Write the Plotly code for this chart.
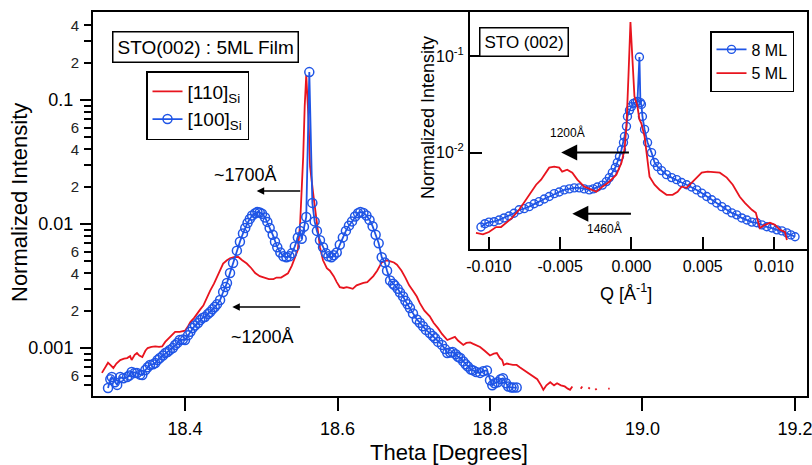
import plotly.graph_objects as go

# ---------------- main panel data ----------------
theta_110 = [18.291, 18.295, 18.299, 18.302, 18.306, 18.310, 18.315, 18.320, 18.324, 18.328,
             18.330, 18.334, 18.337, 18.340, 18.344, 18.348, 18.351, 18.356, 18.361, 18.366,
             18.370, 18.374, 18.380, 18.384, 18.387, 18.393, 18.400, 18.404, 18.407, 18.412,
             18.416, 18.420, 18.424, 18.428, 18.433, 18.438, 18.442, 18.446, 18.450, 18.455,
             18.459, 18.464, 18.470, 18.475, 18.481, 18.487, 18.492, 18.498, 18.504, 18.510,
             18.516, 18.520, 18.526, 18.531, 18.535, 18.540, 18.545, 18.548, 18.551, 18.553,
             18.555, 18.557, 18.559, 18.562, 18.564, 18.568, 18.573, 18.577, 18.581, 18.586,
             18.590, 18.595, 18.599, 18.603, 18.608, 18.612, 18.616, 18.620, 18.625, 18.630,
             18.634, 18.639, 18.643, 18.647, 18.652, 18.658, 18.665, 18.670, 18.674, 18.678,
             18.684, 18.689, 18.694, 18.699, 18.704, 18.708, 18.714, 18.721, 18.726, 18.732,
             18.737, 18.744, 18.750, 18.754, 18.758, 18.765, 18.769, 18.774, 18.778, 18.787,
             18.793, 18.800, 18.805, 18.809, 18.813, 18.816, 18.818, 18.822, 18.830, 18.835,
             18.839, 18.845, 18.850, 18.856, 18.862, 18.867, 18.870, 18.874, 18.879, 18.884,
             18.888, 18.893, 18.898, 18.902, 18.905, 18.908, None, 18.919, 18.921, None,
             18.929, 18.931, None, 18.938, 18.940, None, 18.955, 18.957]
int_110 = [6.3e-4, 7.0e-4, 7.6e-4, 7.3e-4, 6.9e-4, 7.5e-4, 8.0e-4, 8.2e-4, 8.3e-4, 8.6e-4,
           8.0e-4, 8.8e-4, 9.1e-4, 8.7e-4, 8.45e-4, 9.5e-4, 1.0e-3, 1.02e-3, 1.03e-3, 1.02e-3,
           1.03e-3, 1.12e-3, 1.23e-3, 1.3e-3, 1.35e-3, 1.35e-3, 1.38e-3, 1.5e-3, 1.62e-3, 1.75e-3,
           1.91e-3, 2.05e-3, 2.2e-3, 2.5e-3, 2.9e-3, 3.3e-3, 3.7e-3, 4.2e-3, 4.8e-3, 5.1e-3,
           5.3e-3, 5.4e-3, 5.42e-3, 5.1e-3, 4.8e-3, 4.4e-3, 4.03e-3, 3.8e-3, 3.7e-3, 3.6e-3,
           3.6e-3, 3.7e-3, 3.7e-3, 3.9e-3, 4.0e-3, 4.6e-3, 5.6e-3, 6.2e-3, 1.02e-2, 1.9e-2,
           3.5e-2, 9.0e-2, 0.159, 7.0e-2, 2.9e-2, 1.78e-2, 1.02e-2, 6.5e-3, 5.1e-3, 4.4e-3,
           4.2e-3, 3.8e-3, 3.4e-3, 3.1e-3, 3.05e-3, 3.1e-3, 3.05e-3, 3.0e-3, 3.2e-3, 3.3e-3,
           3.35e-3, 3.4e-3, 3.6e-3, 3.8e-3, 4.2e-3, 4.9e-3, 5.1e-3, 5.0e-3, 4.9e-3, 4.7e-3,
           4.2e-3, 3.7e-3, 3.2e-3, 2.9e-3, 2.6e-3, 2.3e-3, 2.0e-3, 1.8e-3, 1.6e-3, 1.44e-3,
           1.3e-3, 1.16e-3, 1.2e-3, 1.23e-3, 1.15e-3, 1.06e-3, 1.1e-3, 1.11e-3, 1.08e-3, 1.02e-3,
           9.5e-4, 8.7e-4, 9.0e-4, 9.1e-4, 8.3e-4, 8.0e-4, 7.3e-4, 7.5e-4, 7.3e-4, 7.3e-4,
           7.0e-4, 6.6e-4, 6.3e-4, 5.9e-4, 5.6e-4, 5.0e-4, 4.6e-4, 5.0e-4, 5.3e-4, 5.0e-4,
           5.2e-4, 5.0e-4, 4.9e-4, 4.7e-4, 4.6e-4, 4.9e-4, None, 4.7e-4, 4.9e-4, None,
           4.8e-4, 4.7e-4, None, 4.6e-4, 4.7e-4, None, 4.7e-4, 4.7e-4]

theta_100 = [18.299, 18.302, 18.304, 18.308, 18.311, 18.315, 18.319, 18.324, 18.327, 18.330,
             18.334, 18.337, 18.341, 18.344, 18.348, 18.351, 18.354, 18.358, 18.361, 18.364,
             18.367, 18.371, 18.374, 18.377, 18.380, 18.384, 18.387, 18.390, 18.393, 18.397,
             18.400, 18.404, 18.407, 18.410, 18.413, 18.417, 18.420, 18.423, 18.426, 18.430,
             18.433, 18.436, 18.439, 18.442, 18.446, 18.450, 18.453, 18.455, 18.459, 18.463,
             18.468, 18.472, 18.476, 18.479, 18.482, 18.485, 18.488, 18.492, 18.495, 18.498,
             18.501, 18.505, 18.508, 18.511, 18.515, 18.518, 18.521, 18.525, 18.529, 18.533,
             18.537, 18.540, 18.544, 18.548, 18.551, 18.553, 18.556, 18.559, 18.563, 18.567,
             18.570, 18.573, 18.577, 18.581, 18.585, 18.588, 18.592, 18.595, 18.599, 18.603,
             18.607, 18.611, 18.615, 18.619, 18.623, 18.627, 18.630, 18.634, 18.638, 18.642,
             18.646, 18.650, 18.654, 18.658, 18.662, 18.665, 18.669, 18.673, 18.675, 18.679,
             18.682, 18.686, 18.689, 18.692, 18.695, 18.699, 18.704, 18.708, 18.712, 18.716,
             18.721, 18.725, 18.728, 18.732, 18.737, 18.741, 18.744, 18.748, 18.751, 18.755,
             18.758, 18.761, 18.765, 18.768, 18.771, 18.775, 18.778, 18.782, 18.787, 18.791,
             18.796, 18.800, 18.803, 18.806, 18.810, 18.814, 18.817, 18.821, 18.824, 18.828,
             18.831, 18.835]
int_100 = [4.76e-4, 5.6e-4, 5.83e-4, 5.3e-4, 5.04e-4, 5.83e-4, 5.7e-4, 5.83e-4, 6.0e-4, 6.4e-4,
           6.3e-4, 6.29e-4, 6.1e-4, 6.05e-4, 6.65e-4, 7.0e-4, 7.3e-4, 7.4e-4, 7.57e-4, 8.0e-4,
           8.3e-4, 8.7e-4, 9.1e-4, 9.3e-4, 9.64e-4, 1.0e-3, 1.06e-3, 1.1e-3, 1.16e-3, 1.17e-3,
           1.16e-3, 1.27e-3, 1.35e-3, 1.45e-3, 1.52e-3, 1.59e-3, 1.68e-3, 1.75e-3, 1.78e-3, 1.88e-3,
           1.95e-3, 2.05e-3, 2.14e-3, 2.25e-3, 2.44e-3, 2.83e-3, 3.1e-3, 3.34e-3, 4.03e-3, 4.85e-3,
           6.1e-3, 7.2e-3, 8.4e-3, 9.3e-3, 1.02e-2, 1.10e-2, 1.17e-2, 1.22e-2, 1.25e-2, 1.24e-2,
           1.21e-2, 1.13e-2, 1.04e-2, 9.3e-3, 8.2e-3, 7.2e-3, 6.5e-3, 5.9e-3, 5.5e-3, 5.4e-3,
           5.5e-3, 5.8e-3, 6.6e-3, 7.8e-3, 8.8e-3, 7.6e-3, 9.5e-3, 1.14e-2, 0.168, 1.48e-2,
           1.05e-2, 8.8e-3, 7.4e-3, 6.5e-3, 5.8e-3, 5.5e-3, 5.4e-3, 5.6e-3, 5.9e-3, 6.8e-3,
           7.8e-3, 8.8e-3, 9.7e-3, 1.05e-2, 1.15e-2, 1.22e-2, 1.25e-2, 1.23e-2, 1.17e-2, 1.08e-2,
           9.6e-3, 8.2e-3, 7.0e-3, 5.4e-3, 4.9e-3, 4.2e-3, 3.5e-3, 3.3e-3, 3.2e-3, 3.0e-3,
           2.8e-3, 2.6e-3, 2.4e-3, 2.25e-3, 2.1e-3, 1.9e-3, 1.7e-3, 1.6e-3, 1.5e-3, 1.4e-3,
           1.32e-3, 1.25e-3, 1.2e-3, 1.12e-3, 1.06e-3, 9.8e-4, 9.1e-4, 9.2e-4, 9.3e-4, 8.9e-4,
           8.5e-4, 8.3e-4, 7.8e-4, 7.4e-4, 7.1e-4, 6.7e-4, 6.6e-4, 6.4e-4, 6.3e-4, 6.5e-4,
           6.6e-4, 5.5e-4, 5.0e-4, 5.2e-4, 5.3e-4, 5.6e-4, 5.7e-4, 5.2e-4, 4.9e-4, 4.8e-4,
           4.8e-4, 4.8e-4]

# ---------------- inset data ----------------
q_5ml = [-0.01091, -0.01042, -0.01000, -0.00950, -0.00915, -0.00880, -0.00838, -0.00788, -0.00739, -0.00704,
         -0.00669, -0.00634, -0.00598, -0.00577, -0.00542, -0.00507, -0.00486, -0.00451, -0.00415, -0.00380,
         -0.00331, -0.00282, -0.00246, -0.00204, -0.00155, -0.00106, -0.00070, -0.00049, -0.00035, -0.00021,
         -0.00007, 0.00007, 0.00021, 0.00042, 0.00056, 0.00070, 0.00092, 0.00106, 0.00127, 0.00162,
         0.00197, 0.00246, 0.00289, 0.00324, 0.00352, 0.00387, 0.00422, 0.00458, 0.00493, 0.00535,
         0.00584, 0.00620, 0.00669, 0.00711, 0.00760, 0.00796, 0.00845, 0.00873, 0.00901, 0.00936,
         0.00972, 0.01007, 0.01042, 0.01077, 0.01091]
int_5ml = [1.47e-3, 1.42e-3, 1.50e-3, 1.69e-3, 1.69e-3, 1.87e-3, 2.10e-3, 2.55e-3, 3.24e-3, 3.92e-3,
           4.64e-3, 5.24e-3, 6.19e-3, 6.98e-3, 7.15e-3, 6.98e-3, 6.34e-3, 6.65e-3, 6.19e-3, 5.24e-3,
           4.43e-3, 4.12e-3, 3.92e-3, 4.43e-3, 4.99e-3, 5.9e-3, 7.87e-3, 1.07e-2, 1.87e-2, 6.19e-2,
           0.226, 9.3e-2, 3.83e-2, 3.02e-2, 2.21e-2, 2.0e-2, 1.47e-2, 1.0e-2, 5.62e-3, 4.64e-3,
           4.12e-3, 3.65e-3, 3.65e-3, 3.92e-3, 4.43e-3, 4.31e-3, 4.87e-3, 5.5e-3, 6.19e-3, 6.34e-3,
           6.19e-3, 6.19e-3, 5.5e-3, 4.64e-3, 3.48e-3, 3.01e-3, 2.55e-3, 2.37e-3, 1.65e-3, 1.78e-3,
           1.87e-3, 1.78e-3, 1.58e-3, 1.5e-3, 1.24e-3]

q_8ml = [-0.01056, -0.01028, -0.01000, -0.00964, -0.00929, -0.00894, -0.00859, -0.00824, -0.00788, -0.00753,
         -0.00718, -0.00683, -0.00648, -0.00612, -0.00577, -0.00542, -0.00507, -0.00472, -0.00436, -0.00401,
         -0.00366, -0.00331, -0.00296, -0.00268, -0.00239, -0.00204, -0.00176, -0.00155, -0.00134, -0.00113,
         -0.00099, -0.00084, -0.00070, -0.00056, -0.00049, -0.00035, -0.00028, -0.00014, 0.00000, 0.00014,
         0.00028, 0.00042, 0.00056, 0.00063, 0.00070, 0.00077, 0.00092, 0.00113, 0.00141, 0.00162,
         0.00183, 0.00211, 0.00246, 0.00282, 0.00317, 0.00352, 0.00387, 0.00422, 0.00458, 0.00493,
         0.00528, 0.00563, 0.00598, 0.00634, 0.00669, 0.00704, 0.00739, 0.00774, 0.00810, 0.00845,
         0.00880, 0.00915, 0.00950, 0.00986, 0.01021, 0.01056, 0.01091, 0.01119, 0.01148]
int_8ml = [1.69e-3, 1.83e-3, 1.90e-3, 1.92e-3, 2.0e-3, 2.1e-3, 2.2e-3, 2.35e-3, 2.55e-3, 2.62e-3,
           2.75e-3, 2.95e-3, 3.1e-3, 3.3e-3, 3.5e-3, 3.75e-3, 3.9e-3, 4.1e-3, 4.2e-3, 4.3e-3,
           4.3e-3, 4.2e-3, 4.1e-3, 4.2e-3, 4.4e-3, 4.6e-3, 5.0e-3, 5.5e-3, 6.2e-3, 7.0e-3,
           7.9e-3, 9.1e-3, 1.07e-2, 1.27e-2, 1.47e-2, 1.87e-2, 2.37e-2, 2.74e-2, 3.0e-2, 3.24e-2,
           3.3e-2, 3.4e-2, 9.8e-2, 3.3e-2, 3.16e-2, 2.37e-2, 1.74e-2, 1.27e-2, 1.0e-2, 7.9e-3,
           7.15e-3, 6.5e-3, 5.9e-3, 5.5e-3, 5.24e-3, 4.9e-3, 4.64e-3, 4.4e-3, 4.1e-3, 3.8e-3,
           3.5e-3, 3.24e-3, 3.0e-3, 2.75e-3, 2.55e-3, 2.37e-3, 2.26e-3, 2.1e-3, 2.0e-3, 1.9e-3,
           1.87e-3, 1.78e-3, 1.7e-3, 1.65e-3, 1.58e-3, 1.54e-3, 1.47e-3, 1.4e-3, 1.34e-3]

# tick definitions
main_x_ticks = [18.4, 18.6, 18.8, 19.0, 19.2]
main_x_text = ["18.4", "18.6", "18.8", "19.0", "19.2"]
main_y_decades = [0.001, 0.01, 0.1]
main_y_decade_text = ["0.001", "0.01", "0.1"]
main_y_minor_lab = [6e-4, 2e-3, 4e-3, 6e-3, 2e-2, 4e-2, 6e-2, 0.2, 0.4]
main_y_minor_lab_text = ["6", "2", "4", "6", "2", "4", "6", "2", "4"]
main_y_minor = [5e-4, 7e-4, 8e-4, 9e-4, 3e-3, 5e-3, 7e-3, 8e-3, 9e-3,
                3e-2, 5e-2, 7e-2, 8e-2, 9e-2, 0.3]
inset_x_ticks = [-0.010, -0.005, 0.0, 0.005, 0.010]
inset_x_text = ["-0.010", "-0.005", "0.000", "0.005", "0.010"]
inset_y_ticks = [0.01, 0.1]
inset_y_text = ["10<sup>-2</sup>", "10<sup>-1</sup>"]

RED = "#e8141e"
BLUE = "#1f55e6"
FONT = "Liberation Sans, Arial, sans-serif"

fig = go.Figure()

fig.add_trace(go.Scatter(x=theta_110, y=int_110, mode="lines", name="[110]<sub>Si</sub>",
                         line=dict(color=RED, width=1.8), connectgaps=False,
                         xaxis="x", yaxis="y", legend="legend"))
fig.add_trace(go.Scatter(x=theta_100, y=int_100, mode="lines+markers", name="[100]<sub>Si</sub>",
                         line=dict(color=BLUE, width=1.8),
                         marker=dict(symbol="circle-open", size=9, color=BLUE, line=dict(width=1.5)),
                         xaxis="x", yaxis="y", legend="legend"))
# overlay axis for the decade labels
fig.add_trace(go.Scatter(x=[], y=[], xaxis="x", yaxis="y3", showlegend=False, hoverinfo="skip"))

fig.add_trace(go.Scatter(x=q_8ml, y=int_8ml, mode="lines+markers", name="8 ML",
                         line=dict(color=BLUE, width=1.8),
                         marker=dict(symbol="circle-open", size=8, color=BLUE, line=dict(width=1.4)),
                         xaxis="x2", yaxis="y2", legend="legend2"))
fig.add_trace(go.Scatter(x=q_5ml, y=int_5ml, mode="lines", name="5 ML",
                         line=dict(color=RED, width=1.8),
                         xaxis="x2", yaxis="y2", legend="legend2"))

ML, MR, MT, MB = 93, 5, 12, 69
W, H = 812, 465
pw, ph = W - ML - MR, H - MT - MB


def px(xp):
    return (xp - ML) / pw


def py(yp):
    return (H - MB - yp) / ph


axis_font = dict(family=FONT, size=18, color="black")

fig.update_layout(
    width=W, height=H,
    margin=dict(l=ML, r=MR, t=MT, b=MB),
    paper_bgcolor="white", plot_bgcolor="white",
    template="none",
    font=dict(family=FONT, color="black"),
    xaxis=dict(domain=[0, 1], range=[18.2793, 19.2158], anchor="y",
               tickvals=main_x_ticks, ticktext=main_x_text, ticks="outside", ticklen=13,
               tickwidth=1.5, tickcolor="black", tickfont=axis_font, ticklabelstandoff=2,
               ticklabeloverflow="allow",
               showline=True, linecolor="black", linewidth=2, mirror=True,
               showgrid=False, zeroline=False),
    yaxis=dict(domain=[0, 1], type="log", range=[-3.387, -0.290], anchor="x",
               tickvals=main_y_minor_lab, ticktext=main_y_minor_lab_text, ticks="outside",
               ticklen=7, tickwidth=1.5, tickcolor="black",
               tickfont=dict(family=FONT, size=15, color="#222"), ticklabelstandoff=2,
               minor=dict(tickvals=main_y_minor, ticks="outside", ticklen=7, tickwidth=1.5,
                          tickcolor="black", showgrid=False),
               showline=True, linecolor="black", linewidth=2, mirror=True,
               showgrid=False, zeroline=False),
    yaxis3=dict(type="log", range=[-3.387, -0.290], overlaying="y", anchor="x", side="left",
                tickvals=main_y_decades, ticktext=main_y_decade_text, ticks="outside",
                ticklen=12, tickwidth=1.5, tickcolor="black", tickfont=axis_font,
                ticklabelstandoff=3, showline=False, showgrid=False, zeroline=False),
    xaxis2=dict(domain=[px(470), 1], range=[-0.01133, 0.01232], anchor="y2",
                tickvals=inset_x_ticks, ticktext=inset_x_text, ticks="inside", ticklen=12,
                tickwidth=1.5, tickcolor="black", tickfont=dict(family=FONT, size=16, color="black"),
                ticklabelstandoff=2,
                showline=True, linecolor="black", linewidth=2, mirror=True,
                showgrid=False, zeroline=False),
    yaxis2=dict(domain=[py(249), 1], type="log", range=[-3.0, -0.542], anchor="x2",
                tickvals=inset_y_ticks, ticktext=inset_y_text, ticks="inside", ticklen=12,
                tickwidth=1.5, tickcolor="black", tickfont=dict(family=FONT, size=16, color="black"),
                ticklabelstandoff=1,
                showline=True, linecolor="black", linewidth=2, mirror=True,
                showgrid=False, zeroline=False),
    legend=dict(x=px(146), y=py(71), xanchor="left", yanchor="top",
                bgcolor="white", bordercolor="black", borderwidth=1.5,
                font=dict(family=FONT, size=19, color="black"), tracegroupgap=0),
    legend2=dict(x=px(710), y=py(31), xanchor="left", yanchor="top",
                 bgcolor="white", bordercolor="black", borderwidth=1.5,
                 font=dict(family=FONT, size=16, color="black"), tracegroupgap=0),
    showlegend=True,
)

# white background for inset
fig.add_shape(type="rect", xref="paper", yref="paper", x0=px(470), x1=1, y0=py(249), y1=1,
              fillcolor="white", line=dict(width=0), layer="below")

ann = []
# axis titles
ann.append(dict(text="Theta [Degrees]", xref="paper", yref="paper", x=px(449), y=py(452),
                xanchor="center", yanchor="middle", showarrow=False,
                font=dict(family=FONT, size=22, color="black")))
ann.append(dict(text="Normalized Intensity", xref="paper", yref="paper", x=px(19), y=py(203),
                xanchor="center", yanchor="middle", textangle=-90, showarrow=False,
                font=dict(family=FONT, size=22, color="black")))
ann.append(dict(text="Q [Å<sup>-1</sup>]", xref="paper", yref="paper", x=px(626), y=py(292),
                xanchor="center", yanchor="middle", showarrow=False,
                font=dict(family=FONT, size=18, color="black")))
ann.append(dict(text="Normalized Intensity", xref="paper", yref="paper", x=px(428), y=py(118),
                xanchor="center", yanchor="middle", textangle=-90, showarrow=False,
                font=dict(family=FONT, size=18, color="black")))
# boxed labels
ann.append(dict(text="STO(002) : 5ML Film", xref="paper", yref="paper", x=px(205), y=py(47.5),
                xanchor="center", yanchor="middle", showarrow=False,
                bgcolor="white", bordercolor="black", borderwidth=1.5, borderpad=4,
                font=dict(family=FONT, size=19, color="black")))
ann.append(dict(text="STO (002)", xref="paper", yref="paper", x=px(524), y=py(42),
                xanchor="center", yanchor="middle", showarrow=False,
                bgcolor="white", bordercolor="black", borderwidth=1.5, borderpad=4,
                font=dict(family=FONT, size=17, color="black")))
# main arrows (log axis: y in log10 units)
ann.append(dict(text="", x=18.494, y=-1.734, ax=18.553, ay=-1.734, xref="x", yref="y",
                axref="x", ayref="y", showarrow=True, arrowhead=2, arrowsize=1,
                arrowwidth=1.5, arrowcolor="black"))
ann.append(dict(text="~1700Å", x=18.479, y=-1.605, xref="x", yref="y", showarrow=False,
                font=dict(family=FONT, size=18, color="black")))
ann.append(dict(text="", x=18.462, y=-2.669, ax=18.553, ay=-2.669, xref="x", yref="y",
                axref="x", ayref="y", showarrow=True, arrowhead=2, arrowsize=1,
                arrowwidth=1.5, arrowcolor="black"))
ann.append(dict(text="~1200Å", x=18.502, y=-2.911, xref="x", yref="y", showarrow=False,
                font=dict(family=FONT, size=18, color="black")))
# inset arrows
ann.append(dict(text="", x=-0.00493, y=-2.0, ax=-0.00007, ay=-2.0, xref="x2", yref="y2",
                axref="x2", ayref="y2", showarrow=True, arrowhead=2, arrowsize=1.6,
                arrowwidth=2, arrowcolor="black"))
ann.append(dict(text="1200Å", x=-0.0045, y=-1.79, xref="x2", yref="y2", showarrow=False,
                font=dict(family=FONT, size=12, color="black")))
ann.append(dict(text="", x=-0.00415, y=-2.635, ax=0.00007, ay=-2.635, xref="x2", yref="y2",
                axref="x2", ayref="y2", showarrow=True, arrowhead=2, arrowsize=1.6,
                arrowwidth=2, arrowcolor="black"))
ann.append(dict(text="1460Å", x=-0.0019, y=-2.79, xref="x2", yref="y2", showarrow=False,
                font=dict(family=FONT, size=12, color="black")))

fig.update_layout(annotations=ann)

fig.write_html("out.html", config={"displayModeBar": False},
               post_script="document.body.style.margin='0';document.body.style.overflow='hidden';")
